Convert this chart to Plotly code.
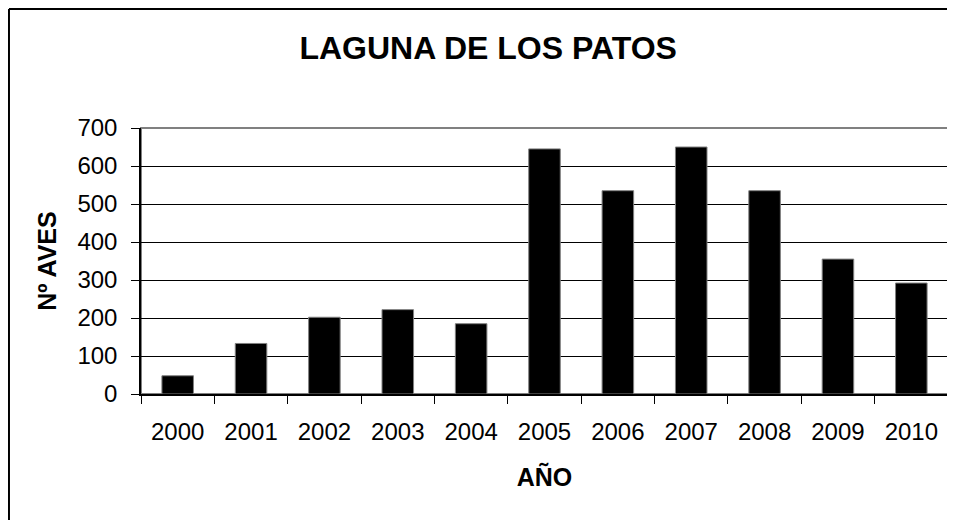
import plotly.graph_objects as go

years = ["2000", "2001", "2002", "2003", "2004", "2005", "2006", "2007", "2008", "2009", "2010"]
aves = [48, 133, 202, 222, 185, 645, 535, 650, 535, 355, 292]
y_ticks = [0, 100, 200, 300, 400, 500, 600, 700]

title_text = "LAGUNA DE LOS PATOS"
x_title = "AÑO"
y_title = "Nº AVES"

FONT = "Liberation Sans, Arial, sans-serif"

# page body has an 8px default margin, so the figure is sized to fit the window
fig = go.Figure(
    go.Bar(
        x=years,
        y=aves,
        marker=dict(color="#000000", line=dict(color="#808080", width=1)),
        hoverinfo="x+y",
    )
)

fig.update_layout(
    width=947,
    height=512,
    margin=dict(l=133, r=7, t=120, b=126),
    paper_bgcolor="white",
    plot_bgcolor="white",
    bargap=0.57,
    showlegend=False,
    font=dict(family=FONT, color="#000000"),
    title=dict(
        text="<b>" + title_text + "</b>",
        x=0.507,
        xref="container",
        xanchor="center",
        y=0.922,
        yanchor="middle",
        yref="container",
        font=dict(size=32, family=FONT, color="#000000"),
    ),
)

fig.update_xaxes(
    type="category",
    showgrid=False,
    showline=True,
    linecolor="#000000",
    linewidth=1.5,
    ticks="outside",
    tickson="boundaries",
    ticklen=8,
    tickcolor="#000000",
    tickwidth=1.3,
    tickfont=dict(size=24, family=FONT),
    ticklabelstandoff=15,
    title=dict(text="<b>" + x_title + "</b>", font=dict(size=25, family=FONT), standoff=25),
)

fig.update_yaxes(
    range=[0, 700],
    tickvals=y_ticks,
    showgrid=True,
    gridcolor="#000000",
    gridwidth=1,
    showline=True,
    linecolor="#000000",
    linewidth=1.5,
    ticks="outside",
    ticklen=8,
    tickcolor="#000000",
    tickwidth=1.3,
    tickfont=dict(size=24, family=FONT),
    ticklabelstandoff=9,
    zeroline=False,
    title=dict(text="<b>" + y_title + "</b>", font=dict(size=25, family=FONT), standoff=14),
)

# plot-area border (grey top/right)
fig.add_shape(type="rect", xref="paper", yref="paper", x0=0, x1=1, y0=0, y1=1,
              line=dict(color="#808080", width=2), layer="below")
# outer chart frame (left and top edges visible)
fig.add_shape(type="line", xref="paper", yref="paper", x0=-0.1636, x1=1.2, y0=1.4474, y1=1.4474,
              line=dict(color="#000000", width=2))
fig.add_shape(type="line", xref="paper", yref="paper", x0=-0.1636, x1=-0.1636, y0=1.4474, y1=-0.6,
              line=dict(color="#000000", width=2))

fig.write_html("out.html")
